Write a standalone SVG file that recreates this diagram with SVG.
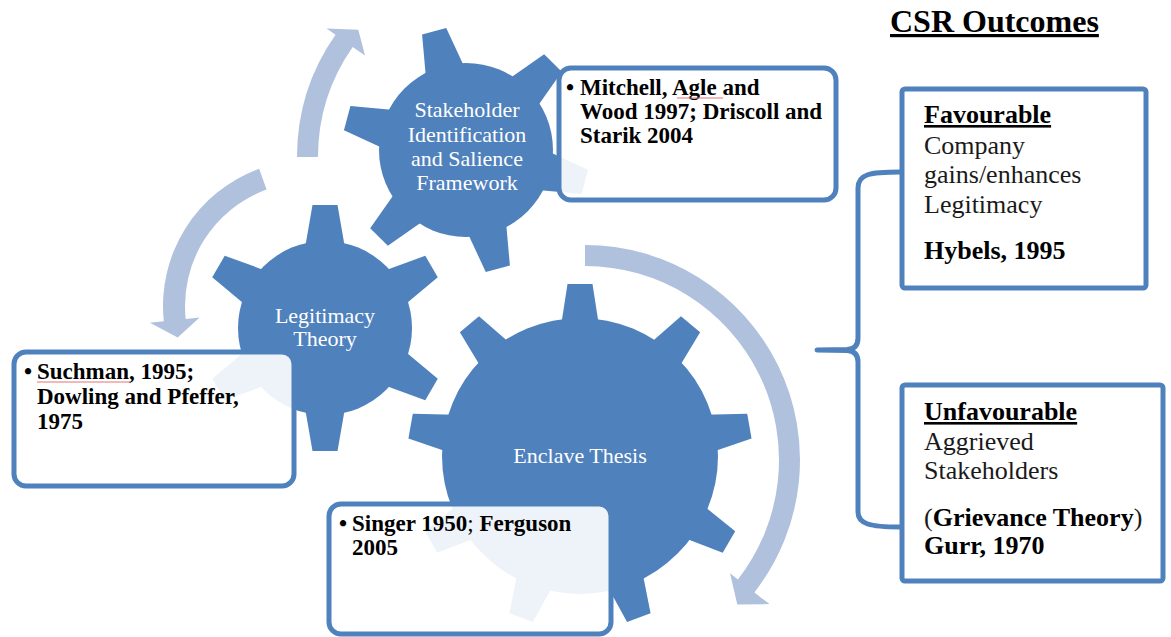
<svg xmlns="http://www.w3.org/2000/svg" width="1171" height="637" viewBox="0 0 1171 637">
  <style>
    .gear { fill: #4F81BD; }
    .arrow { fill: #B0C1DD; }
    .gear-label { font-family: "Liberation Serif", "Times New Roman", serif; font-size: 22px; fill: #FFFFFF; text-anchor: middle; }
    .note-box { fill: #FFFFFF; fill-opacity: 0.9; stroke: #4F81BD; stroke-width: 5; }
    .outcome-box { fill: #FFFFFF; stroke: #4F81BD; stroke-width: 5; }
    .bracket { fill: none; stroke: #4F81BD; stroke-width: 5; stroke-linecap: round; stroke-linejoin: round; }
    .ref { font-family: "Liberation Serif", "Times New Roman", serif; font-size: 23px; font-weight: bold; fill: #000000; }
    .outcome { font-family: "Liberation Serif", "Times New Roman", serif; font-size: 26px; fill: #1A1A1A; }
    .b { font-weight: bold; fill: #000000; }
    .u { text-decoration: underline; }
    .spell { stroke: #E57373; stroke-width: 1; fill: none; }
  </style>
  <defs>
    <polygon id="tooth-small" points="-20,-80 -12.5,-123 12.5,-123 20,-80"/>
    <polygon id="tooth-large" points="-19,-130 -12.5,-172 12.5,-172 19,-130"/>
  </defs>

  <!-- circular arrows -->
  <g id="connectors">
    <path class="arrow" d="M297,157 A213 213 0 0 1 335.5,34.8 L326.5,28.5 L358.3,29.7 L365,55.5 L352.7,46.9 A192 192 0 0 0 318,157 Z"/>
    <path class="arrow" d="M259.1,168.8 A146 146 0 0 0 163.8,321.3 L149.9,322.7 L177.7,337.5 L199.6,317.5 L185.7,319 A124 124 0 0 1 266.6,189.5 Z"/>
    <path class="arrow" d="M585,245 A215 215 0 0 1 754.4,592.4 L769.4,604.1 L737.3,604.6 L730,573.3 L737.9,579.4 A194 194 0 0 0 585,266 Z"/>
  </g>

  <!-- gear: Stakeholder Identification and Salience Framework -->
  <g id="gear-stakeholder" class="gear" transform="translate(466,150)">
    <circle r="87"/>
    <use href="#tooth-small" transform="rotate(-15)"/>
    <use href="#tooth-small" transform="rotate(45)"/>
    <use href="#tooth-small" transform="rotate(105)"/>
    <use href="#tooth-small" transform="rotate(165)"/>
    <use href="#tooth-small" transform="rotate(225)"/>
    <use href="#tooth-small" transform="rotate(285)"/>
    <text class="gear-label" x="1" y="-33">Stakeholder</text>
    <text class="gear-label" x="1" y="-8">Identification</text>
    <text class="gear-label" x="1" y="16">and Salience</text>
    <text class="gear-label" x="1" y="40">Framework</text>
  </g>

  <!-- gear: Legitimacy Theory -->
  <g id="gear-legitimacy" class="gear" transform="translate(325,328)">
    <circle r="87"/>
    <use href="#tooth-small"/>
    <use href="#tooth-small" transform="rotate(60)"/>
    <use href="#tooth-small" transform="rotate(120)"/>
    <use href="#tooth-small" transform="rotate(180)"/>
    <use href="#tooth-small" transform="rotate(240)"/>
    <use href="#tooth-small" transform="rotate(300)"/>
    <text class="gear-label" x="0" y="-5">Legitimacy</text>
    <text class="gear-label" x="0" y="18">Theory</text>
  </g>

  <!-- gear: Enclave Thesis -->
  <g id="gear-enclave" class="gear" transform="translate(580,456)">
    <circle r="138"/>
    <use href="#tooth-large"/>
    <use href="#tooth-large" transform="rotate(40)"/>
    <use href="#tooth-large" transform="rotate(80)"/>
    <use href="#tooth-large" transform="rotate(120)"/>
    <use href="#tooth-large" transform="rotate(160)"/>
    <use href="#tooth-large" transform="rotate(200)"/>
    <use href="#tooth-large" transform="rotate(240)"/>
    <use href="#tooth-large" transform="rotate(280)"/>
    <use href="#tooth-large" transform="rotate(320)"/>
    <text class="gear-label" x="0" y="7">Enclave Thesis</text>
  </g>

  <!-- reference notes -->
  <g id="note-stakeholder">
    <rect class="note-box" x="559" y="68" width="277" height="132" rx="12"/>
    <text class="ref" x="566" y="95">•</text>
    <text class="ref" x="580" y="95">Mitchell, Agle and</text>
    <text class="ref" x="580" y="119">Wood 1997; Driscoll and</text>
    <text class="ref" x="580" y="143">Starik 2004</text>
    <path class="spell" d="M677,98 L723,98"/>
  </g>

  <g id="note-legitimacy">
    <rect class="note-box" x="14" y="352" width="280" height="134" rx="12"/>
    <text class="ref" x="24" y="379">•</text>
    <text class="ref" x="37" y="379">Suchman, 1995;</text>
    <text class="ref" x="37" y="404">Dowling and Pfeffer,</text>
    <text class="ref" x="37" y="429">1975</text>
    <path class="spell" d="M37,382 L130,382"/>
  </g>

  <g id="note-enclave">
    <rect class="note-box" x="329" y="504" width="282" height="130" rx="12"/>
    <text class="ref" x="339" y="531">•</text>
    <text class="ref" x="352" y="531">Singer 1950<tspan font-weight="normal">;</tspan> Ferguson</text>
    <text class="ref" x="352" y="555">2005</text>
  </g>

  <!-- outcomes -->
  <g id="outcomes-title">
    <text x="890" y="32" font-family="Liberation Serif, Times New Roman, serif" font-size="32" font-weight="bold" text-decoration="underline" fill="#000000">CSR Outcomes</text>
  </g>

  <g id="bracket">
    <path class="bracket" d="M900,172 C870,172 858,174 858,188 L858,338 Q858,349 847,349.5 L817,350 L847,350.5 Q858,351 858,362 L858,512 C858,524 870,527 900,527"/>
  </g>

  <g id="outcome-favourable">
    <rect class="outcome-box" x="902" y="89" width="244" height="199" rx="3"/>
    <text class="outcome b u" x="924" y="123">Favourable</text>
    <text class="outcome" x="924" y="154">Company</text>
    <text class="outcome" x="924" y="183">gains/enhances</text>
    <text class="outcome" x="924" y="213">Legitimacy</text>
    <text class="outcome b" x="924" y="259">Hybels, 1995</text>
  </g>

  <g id="outcome-unfavourable">
    <rect class="outcome-box" x="902" y="385" width="261" height="196" rx="3"/>
    <text class="outcome b u" x="924" y="420">Unfavourable</text>
    <text class="outcome" x="924" y="450">Aggrieved</text>
    <text class="outcome" x="924" y="479">Stakeholders</text>
    <text class="outcome" x="924" y="526">(<tspan class="b">Grievance Theory</tspan>)</text>
    <text class="outcome b" x="924" y="554">Gurr, 1970</text>
  </g>
</svg>
